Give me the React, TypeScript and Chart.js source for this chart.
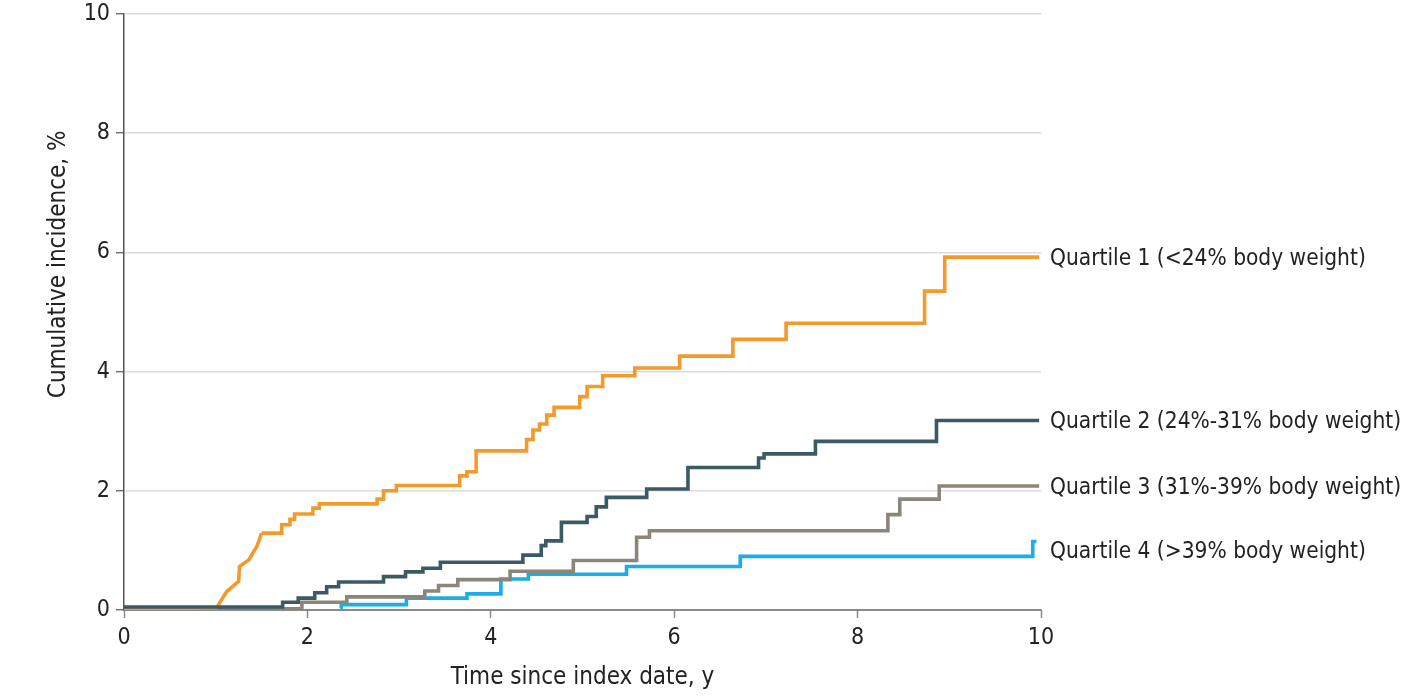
import { useEffect, useRef } from "react";
import { Chart, registerables } from "chart.js";

Chart.register(...registerables);

// Cumulative incidence (%) step curves: [years, %]
const q1Ramp: [number, number][] = [
  [0, 0.0], [1.01, 0.04], [1.12, 0.31], [1.25, 0.48], [1.26, 0.73],
  [1.36, 0.84], [1.45, 1.07], [1.5, 1.29],
];
const q1Steps: [number, number][] = [
  [1.5, 1.29], [1.72, 1.43], [1.81, 1.52], [1.86, 1.61], [2.06, 1.71],
  [2.13, 1.78], [2.76, 1.86], [2.83, 2.0], [2.97, 2.09], [3.66, 2.25],
  [3.74, 2.32], [3.84, 2.67], [4.39, 2.86], [4.46, 3.02], [4.53, 3.12],
  [4.61, 3.27], [4.69, 3.4], [4.97, 3.58], [5.05, 3.75], [5.22, 3.93],
  [5.57, 4.06], [6.06, 4.26], [6.64, 4.54], [7.22, 4.81], [8.73, 5.35],
  [8.95, 5.92], [9.98, 5.92],
];
const q2Steps: [number, number][] = [
  [0, 0.05], [1.73, 0.13], [1.9, 0.2], [2.08, 0.29], [2.21, 0.39],
  [2.34, 0.47], [2.83, 0.56], [3.07, 0.64], [3.26, 0.7], [3.45, 0.8],
  [4.35, 0.92], [4.55, 1.08], [4.6, 1.16], [4.77, 1.47], [5.05, 1.57],
  [5.15, 1.73], [5.26, 1.89], [5.7, 2.03], [6.15, 2.39], [6.92, 2.55],
  [6.98, 2.62], [7.54, 2.83], [8.86, 3.18], [9.98, 3.18],
];
const q3Steps: [number, number][] = [
  [0, 0.02], [1.94, 0.13], [2.43, 0.22], [3.28, 0.32], [3.43, 0.41],
  [3.64, 0.51], [4.21, 0.65], [4.9, 0.83], [5.59, 1.22], [5.73, 1.33],
  [8.33, 1.6], [8.46, 1.86], [8.89, 2.08], [9.98, 2.08],
];
const q4Steps: [number, number][] = [
  [2.36, 0.03], [2.37, 0.09], [3.08, 0.2], [3.74, 0.27], [4.11, 0.52],
  [4.41, 0.6], [5.48, 0.73], [6.72, 0.9], [9.91, 1.15], [9.95, 1.15],
];

const seriesLabels = [
  "Quartile 1 (<24% body weight)",
  "Quartile 2 (24%-31% body weight)",
  "Quartile 3 (31%-39% body weight)",
  "Quartile 4 (>39% body weight)",
];
const seriesColors = ["#f39a2c", "#3a5a64", "#8c8579", "#1aaee8"];
// where each right-hand label sits, in % units
const labelAt = [5.92, 3.18, 2.08, 1.0];

const xTicks = [0, 2, 4, 6, 8, 10];
const yTicks = [0, 2, 4, 6, 8, 10];

const yTitle = "Cumulative incidence, %";
const xTitle = "Time since index date, y";

const FONT = "'DejaVu Sans Condensed', 'DejaVu Sans', sans-serif";

const toPts = (arr: [number, number][]) => arr.map(([x, y]) => ({ x, y }));

const textLayer = {
  id: "textLayer",
  afterDatasetsDraw(chart: any) {
    const { ctx, chartArea, scales } = chart;
    ctx.save();
    ctx.fillStyle = "#222";
    ctx.textBaseline = "middle";

    // right-hand series labels
    ctx.font = `22.5px ${FONT}`;
    ctx.textAlign = "left";
    seriesLabels.forEach((txt, i) => {
      ctx.fillText(txt, chartArea.right + 9, scales.y.getPixelForValue(labelAt[i]) + 2);
    });

    // y axis title sits a little above the middle of the axis
    ctx.font = `24px ${FONT}`;
    ctx.textAlign = "center";
    ctx.translate(59, scales.y.getPixelForValue(5.8));
    ctx.rotate(-Math.PI / 2);
    ctx.fillText(yTitle, 0, 0);
    ctx.restore();
  },
};

const App = () => {
  const canvasRef = useRef<HTMLCanvasElement>(null);

  useEffect(() => {
    if (!canvasRef.current) return;
    const line = (data: [number, number][], i: number, stepped: boolean, order: number) => ({
      label: seriesLabels[i],
      data: toPts(data),
      borderColor: seriesColors[i],
      borderWidth: 3.6,
      pointRadius: 0,
      stepped: stepped ? ("before" as const) : false,
      tension: 0,
      fill: false,
      order,
    });

    const chart = new Chart(canvasRef.current, {
      type: "line",
      data: {
        datasets: [
          line(q1Ramp, 0, false, 1),
          line(q1Steps, 0, true, 1),
          line(q2Steps, 1, true, 0),
          line(q3Steps, 2, true, 2),
          line(q4Steps, 3, true, 3),
        ],
      },
      options: {
        animation: false,
        responsive: false,
        maintainAspectRatio: false,
        layout: { padding: { top: 0, right: 369, bottom: 0, left: 0 } },
        plugins: { legend: { display: false }, tooltip: { enabled: false } },
        scales: {
          x: {
            type: "linear",
            min: 0,
            max: 10,
            afterFit: (s: any) => { s.height = 86; },
            afterBuildTicks: (s: any) => { s.ticks = xTicks.map((v) => ({ value: v })); },
            grid: { drawOnChartArea: false, tickLength: 8, tickColor: "#8a8a8a", tickWidth: 1.5 },
            border: { color: "#8a8a8a", width: 2 },
            ticks: { color: "#222", padding: 6, font: { family: FONT, size: 23 } },
            title: {
              display: true,
              text: xTitle,
              color: "#222",
              font: { family: FONT, size: 24 },
              padding: { top: 0, bottom: 4 },
            },
          },
          y: {
            type: "linear",
            min: 0,
            max: 10,
            afterFit: (s: any) => { s.width = 124; s.paddingTop = 14; },
            afterBuildTicks: (s: any) => { s.ticks = yTicks.map((v) => ({ value: v })); },
            grid: { color: "#dcdcdc", lineWidth: 1.5, tickLength: 8, tickColor: "#555", tickWidth: 1.2 },
            border: { color: "#555", width: 1.5 },
            ticks: { color: "#222", padding: 6, font: { family: FONT, size: 23 } },
          },
        },
      },
      plugins: [textLayer],
    });

    return () => chart.destroy();
  }, []);

  return (
    <div style={{ position: "fixed", left: 0, top: 0, width: 1410, height: 696, background: "#fff" }}>
      <canvas ref={canvasRef} width={1410} height={696} style={{ width: 1410, height: 696 }} />
    </div>
  );
};

export default App;
